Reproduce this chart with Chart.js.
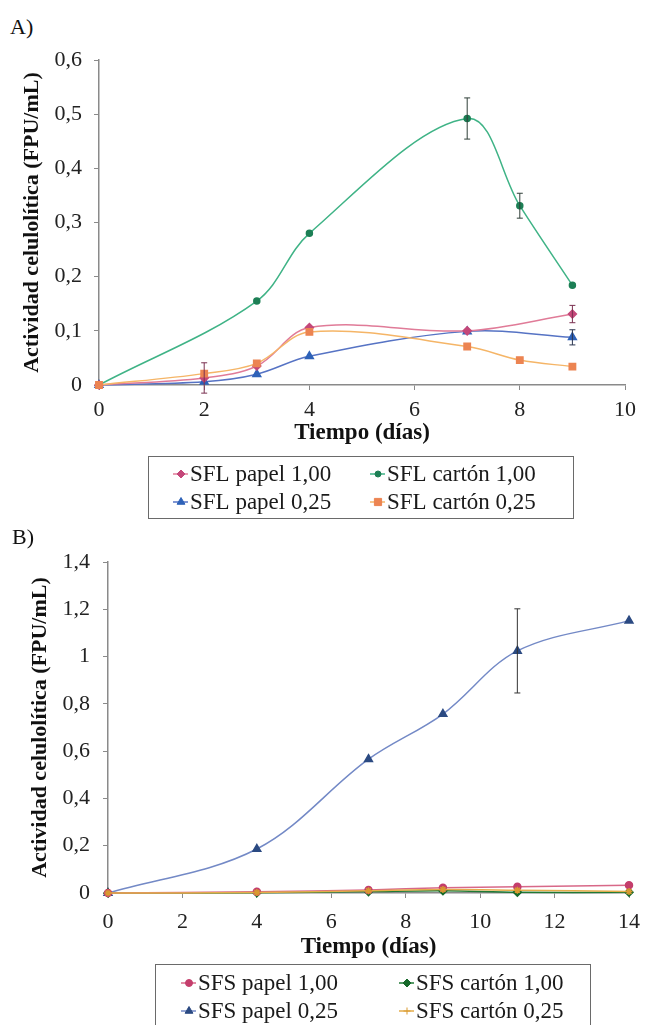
<!DOCTYPE html>
<html>
<head>
<meta charset="utf-8">
<style>
body { margin: 0; background: #fff; }
#page { position: relative; width: 651px; height: 1025px; overflow: hidden; font-family: "Liberation Serif", serif; }
.tag { position: absolute; font-size: 22px; color: #111; line-height: 26px; }
canvas { position: absolute; left: 0; }
</style>
</head>
<body>
<script src="https://cdnjs.cloudflare.com/ajax/libs/Chart.js/4.4.1/chart.umd.min.js"></script>
<div id="page">
  <div class="tag" style="left:10px;top:14px">A)</div>
  <canvas id="chartA" width="651" height="525" style="top:0"></canvas>
  <div class="tag" style="left:12px;top:524px">B)</div>
  <canvas id="chartB" width="651" height="500" style="top:525px"></canvas>
</div>
<script>
// --- A) liquid fermentation (SFL) ---
const xTicksA = [0, 2, 4, 6, 8, 10];
const yTicksA = [0, 0.1, 0.2, 0.3, 0.4, 0.5, 0.6];
const yLabelsA = ['0', '0,1', '0,2', '0,3', '0,4', '0,5', '0,6'];

const daysPapel100A = [0, 2, 3, 4, 7, 9];
const papel100A     = [0, 0.013, 0.035, 0.106, 0.100, 0.131];
const errPapel100A  = [0, 0.028, 0, 0, 0, 0.016];

const daysCarton100A = [0, 3, 4, 7, 8, 9];
const carton100A     = [0, 0.155, 0.280, 0.492, 0.331, 0.184];
const errCarton100A  = [0, 0, 0, 0.038, 0.023, 0];

const daysPapel025A = [0, 2, 3, 4, 7, 9];
const papel025A     = [0, 0.006, 0.020, 0.053, 0.099, 0.088];
const errPapel025A  = [0, 0, 0, 0, 0, 0.014];

const daysCarton025A = [0, 2, 3, 4, 7, 8, 9];
const carton025A     = [0, 0.021, 0.040, 0.098, 0.071, 0.046, 0.034];

// --- B) solid fermentation (SFS) ---
const xTicksB = [0, 2, 4, 6, 8, 10, 12, 14];
const yTicksB = [0, 0.2, 0.4, 0.6, 0.8, 1, 1.2, 1.4];
const yLabelsB = ['0', '0,2', '0,4', '0,6', '0,8', '1', '1,2', '1,4'];

const daysB       = [0, 4, 7, 9, 11, 14];
const papel100B   = [0, 0.005, 0.013, 0.022, 0.026, 0.033];
const carton100B  = [0, 0.001, 0.006, 0.010, 0.003, 0.003];
const papel025B   = [0, 0.186, 0.566, 0.757, 1.024, 1.152];
const errPapel025B = [0, 0, 0, 0, 0.178, 0];
const carton025B  = [0, 0.002, 0.010, 0.015, 0.012, 0.006];

const axisGrey = '#8a8a8a';
const serif = '"Liberation Serif", "Times New Roman", serif';

function pts(xs, ys) { return xs.map((x, i) => ({ x: x, y: ys[i] })); }

function drawMarker(ctx, style, x, y, r, fill, stroke) {
  ctx.save();
  ctx.fillStyle = fill; ctx.strokeStyle = stroke; ctx.lineWidth = 1;
  ctx.beginPath();
  if (style === 'circle') {
    ctx.arc(x, y, r, 0, Math.PI * 2);
  } else if (style === 'rectRot') {
    ctx.moveTo(x, y - r); ctx.lineTo(x + r, y); ctx.lineTo(x, y + r); ctx.lineTo(x - r, y); ctx.closePath();
  } else if (style === 'triangle') {
    ctx.moveTo(x, y - r); ctx.lineTo(x + r * 0.87, y + r * 0.5); ctx.lineTo(x - r * 0.87, y + r * 0.5); ctx.closePath();
  } else if (style === 'rect') {
    const s = r * 0.8;
    ctx.rect(x - s, y - s, s * 2, s * 2);
  } else {
    ctx.moveTo(x - r, y); ctx.lineTo(x + r, y); ctx.moveTo(x, y - r); ctx.lineTo(x, y + r);
    ctx.stroke(); ctx.restore(); return;
  }
  ctx.fill(); ctx.stroke();
  ctx.restore();
}

// vertical error bars with caps, read from dataset.errors
const errorBars = {
  id: 'errorBars',
  afterDatasetsDraw(chart) {
    const { ctx, scales: { x, y } } = chart;
    ctx.save();
    ctx.lineWidth = 1;
    chart.data.datasets.forEach(ds => {
      if (!ds.errors) return;
      ctx.strokeStyle = ds.errorColor || '#3a3a3a';
      ds.data.forEach((p, i) => {
        const e = ds.errors[i];
        if (!e) return;
        const px = x.getPixelForValue(p.x);
        const top = y.getPixelForValue(p.y + e);
        const bot = y.getPixelForValue(p.y - e);
        ctx.beginPath();
        ctx.moveTo(px, top); ctx.lineTo(px, bot);
        ctx.moveTo(px - 3, top); ctx.lineTo(px + 3, top);
        ctx.moveTo(px - 3, bot); ctx.lineTo(px + 3, bot);
        ctx.stroke();
      });
    });
    ctx.restore();
  }
};

// boxed two-column legend under the plot
const boxLegend = {
  id: 'boxLegend',
  afterDraw(chart, args, o) {
    const ctx = chart.ctx;
    ctx.save();
    ctx.strokeStyle = '#6a6a6a'; ctx.lineWidth = 1;
    ctx.strokeRect(o.box[0], o.box[1], o.box[2], o.box[3]);
    ctx.font = '23px ' + serif;
    ctx.textBaseline = 'middle';
    chart.data.datasets.forEach((ds, i) => {
      const mx = o.cols[i % 2], my = o.rows[Math.floor(i / 2)];
      ctx.strokeStyle = ds.borderColor; ctx.lineWidth = 1.5;
      ctx.beginPath(); ctx.moveTo(mx - 8, my); ctx.lineTo(mx + 7, my); ctx.stroke();
      drawMarker(ctx, ds.pointStyle, mx, my, ds.pointRadius, ds.pointBackgroundColor, ds.pointBorderColor);
      ctx.fillStyle = '#1a1a1a';
      ctx.fillText(ds.label, mx + 9, my + 1);
    });
    ctx.restore();
  }
};

function series(label, data, line, mark, style, r, extra) {
  return Object.assign({
    label: label, data: data,
    borderColor: line, borderWidth: 1.5,
    pointStyle: style, pointRadius: r,
    pointBackgroundColor: mark, pointBorderColor: mark,
    tension: 0.35, clip: false, fill: false
  }, extra || {});
}

function makeChart(id, datasets, c) {
  return new Chart(document.getElementById(id), {
    type: 'line',
    data: { datasets: datasets },
    plugins: [errorBars, boxLegend],
    options: {
      responsive: false, animation: false, devicePixelRatio: 1,
      layout: { padding: c.padding },
      plugins: { legend: { display: false }, tooltip: { enabled: false }, boxLegend: c.legend },
      scales: {
        x: {
          type: 'linear', min: c.xTicks[0], max: c.xTicks[c.xTicks.length - 1],
          afterBuildTicks: s => { s.ticks = c.xTicks.map(v => ({ value: v })); },
          afterFit: s => { s.height = c.xHeight; },
          ticks: { font: { family: serif, size: 22 }, color: '#222', padding: c.xPad, maxRotation: 0 },
          grid: { drawOnChartArea: false, tickLength: 5, color: axisGrey },
          border: { color: axisGrey, width: 1.5 },
          title: { display: true, text: 'Tiempo (días)', color: '#111',
                   font: { family: serif, size: 23, weight: 'bold' }, padding: { top: 0, bottom: 0 } }
        },
        y: {
          type: 'linear', min: c.yTicks[0], max: c.yTicks[c.yTicks.length - 1],
          afterBuildTicks: s => { s.ticks = c.yTicks.map(v => ({ value: v })); },
          afterFit: s => { s.width = c.yWidth; },
          ticks: { font: { family: serif, size: 22 }, color: '#222', padding: c.yPad,
                   callback: (v, i) => c.yLabels[i] },
          grid: { drawOnChartArea: false, tickLength: 5, color: axisGrey },
          border: { color: axisGrey, width: 1.5 },
          title: { display: true, text: 'Actividad celulolítica (FPU/mL)', color: '#111',
                   font: { family: serif, size: 22, weight: 'bold' }, padding: { top: c.yTitlePad, bottom: 0 } }
        }
      }
    }
  });
}

makeChart('chartA', [
  series('SFL papel 1,00', pts(daysPapel100A, papel100A), '#e07b98', '#c4487a', 'rectRot', 4,
         { errors: errPapel100A, errorColor: '#7a3050' }),
  series('SFL cartón 1,00', pts(daysCarton100A, carton100A), '#3fb386', '#1d7f55', 'circle', 3,
         { errors: errCarton100A, errorColor: '#2f3f38' }),
  series('SFL papel 0,25', pts(daysPapel025A, papel025A), '#5673c4', '#2e62b8', 'triangle', 4.5,
         { errors: errPapel025A, errorColor: '#2a3550' }),
  series('SFL cartón 0,25', pts(daysCarton025A, carton025A), '#f5b567', '#ec8452', 'rect', 4.5, { order: -1 })
], {
  padding: { left: 0, right: 26, top: 60, bottom: 78 },
  xTicks: xTicksA, yTicks: yTicksA, yLabels: yLabelsA,
  xHeight: 62, xPad: 7, yWidth: 99, yPad: 12, yTitlePad: 19,
  legend: { box: [148.5, 456.5, 425, 62], cols: [181, 378], rows: [474, 502] }
});

makeChart('chartB', [
  series('SFS papel 1,00', pts(daysB, papel100B), '#d86888', '#c43e6c', 'circle', 3.5),
  series('SFS cartón 1,00', pts(daysB, carton100B), '#1f7a35', '#16692a', 'rectRot', 4),
  series('SFS papel 0,25', pts(daysB, papel025B), '#7389c6', '#2b4a82', 'triangle', 4.5,
         { errors: errPapel025B, errorColor: '#333' }),
  series('SFS cartón 0,25', pts(daysB, carton025B), '#e5ad4a', '#d99a30', 'star', 3.5, { order: -1 })
], {
  padding: { left: 0, right: 8, top: 37, bottom: 64 },
  xTicks: xTicksB, yTicks: yTicksB, yLabels: yLabelsB,
  xHeight: 68, xPad: 11, yWidth: 108, yPad: 13, yTitlePad: 27,
  legend: { box: [155.5, 439.5, 435, 80], cols: [189, 407], rows: [458, 486] }
});
</script>
</body>
</html>
